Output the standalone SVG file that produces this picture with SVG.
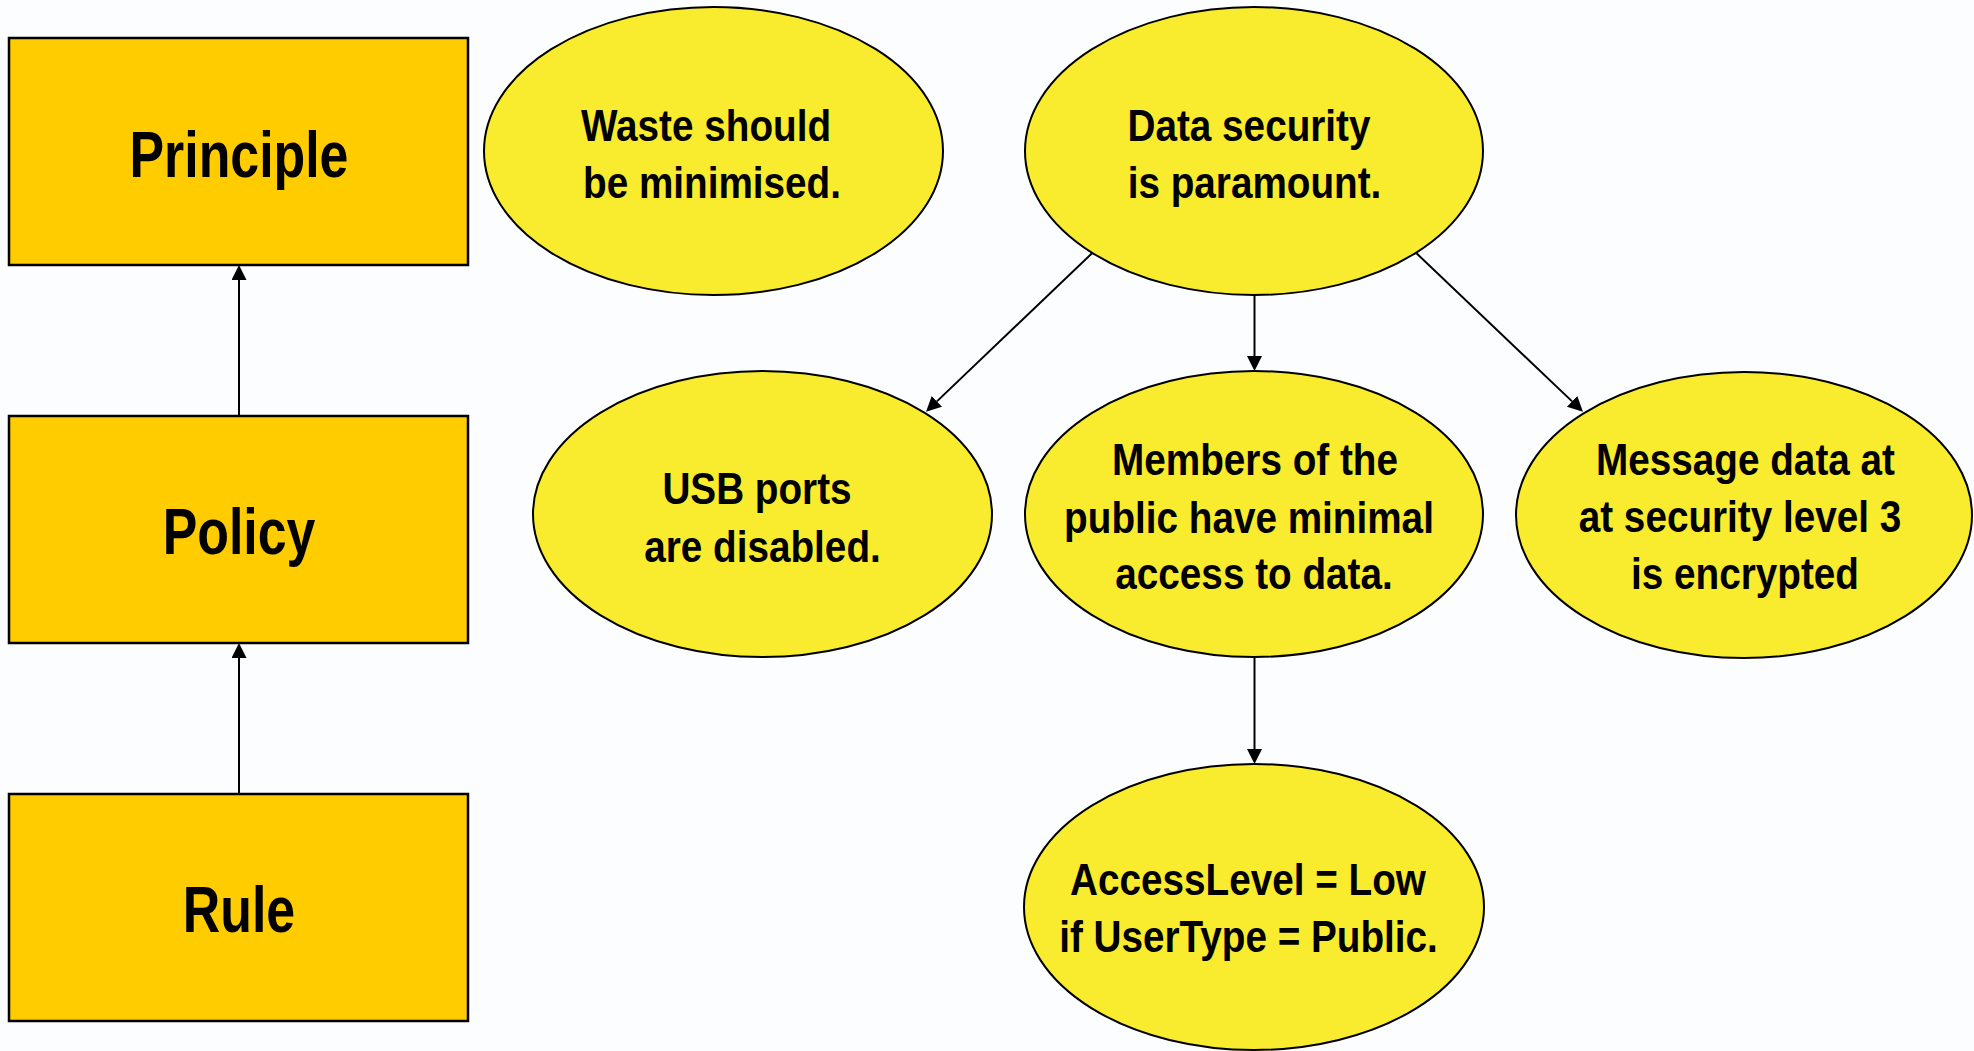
<svg xmlns="http://www.w3.org/2000/svg" width="1974" height="1051" viewBox="0 0 1974 1051">
  <defs>
    <!-- filled arrowhead; its base sits at the line end, tip 15px ahead -->
    <marker id="arrow" markerUnits="userSpaceOnUse" markerWidth="16" markerHeight="16" refX="0" refY="7.5" orient="auto">
      <path d="M0,0 L15,7.5 L0,15 Z" fill="#000"/>
    </marker>
    <style>
      .box { fill: #FFCC00; stroke: #000; stroke-width: 2.5; }
      .oval { fill: #F9EB2D; stroke: #000; stroke-width: 2; }
      .edge { stroke: #000; stroke-width: 2; fill: none; marker-end: url(#arrow); }
      .big { font-family: "Liberation Sans", Arial, sans-serif; font-weight: bold; font-size: 64px; text-anchor: middle; fill: #000; }
      .lbl { font-family: "Liberation Sans", Arial, sans-serif; font-weight: bold; font-size: 45px; text-anchor: middle; fill: #000; }
    </style>
  </defs>

  <rect width="1974" height="1051" fill="#FCFDFE"/>

  <!-- hierarchy column -->
  <g id="principle">
    <rect class="box" x="9" y="38" width="459" height="227"/>
    <text class="big" transform="translate(239 177) scale(0.81 1)">Principle</text>
  </g>
  <g id="policy">
    <rect class="box" x="9" y="416" width="459" height="227"/>
    <text class="big" transform="translate(239 554) scale(0.81 1)">Policy</text>
  </g>
  <g id="rule">
    <rect class="box" x="9" y="794" width="459" height="227"/>
    <text class="big" transform="translate(239 932) scale(0.81 1)">Rule</text>
  </g>

  <!-- example statements -->
  <g id="waste">
    <ellipse class="oval" cx="713.5" cy="151" rx="229.5" ry="144"/>
    <text class="lbl" transform="translate(706 141) scale(0.86 1)">Waste should</text>
    <text class="lbl" transform="translate(712 198) scale(0.86 1)">be minimised.</text>
  </g>
  <g id="security">
    <ellipse class="oval" cx="1254" cy="151" rx="229" ry="144"/>
    <text class="lbl" transform="translate(1249 141) scale(0.86 1)">Data security</text>
    <text class="lbl" transform="translate(1254.5 198) scale(0.86 1)">is paramount.</text>
  </g>
  <g id="usb">
    <ellipse class="oval" cx="762.5" cy="514" rx="229.5" ry="143"/>
    <text class="lbl" transform="translate(757 504) scale(0.86 1)">USB ports</text>
    <text class="lbl" transform="translate(762.5 562) scale(0.86 1)">are disabled.</text>
  </g>
  <g id="members">
    <ellipse class="oval" cx="1254" cy="514" rx="229" ry="143"/>
    <text class="lbl" transform="translate(1255 475) scale(0.86 1)">Members of the</text>
    <text class="lbl" transform="translate(1249 533) scale(0.86 1)">public have minimal</text>
    <text class="lbl" transform="translate(1254 589) scale(0.86 1)">access to data.</text>
  </g>
  <g id="message">
    <ellipse class="oval" cx="1744" cy="515" rx="228" ry="143"/>
    <text class="lbl" transform="translate(1745.5 475) scale(0.86 1)">Message data at</text>
    <text class="lbl" transform="translate(1740 532) scale(0.86 1)">at security level 3</text>
    <text class="lbl" transform="translate(1745 589) scale(0.86 1)">is encrypted</text>
  </g>
  <g id="access">
    <ellipse class="oval" cx="1254" cy="907" rx="230" ry="143"/>
    <text class="lbl" transform="translate(1248 895) scale(0.86 1)">AccessLevel = Low</text>
    <text class="lbl" transform="translate(1248.5 952) scale(0.86 1)">if UserType = Public.</text>
  </g>

  <!-- connectors -->
  <g id="connectors">
    <line class="edge" x1="239" y1="416" x2="239" y2="280"/>
    <line class="edge" x1="239" y1="794" x2="239" y2="658"/>
    <line class="edge" x1="1092" y1="253.3" x2="936.9" y2="401.4"/>
    <line class="edge" x1="1254.5" y1="295" x2="1254.5" y2="356"/>
    <line class="edge" x1="1416.5" y1="253.3" x2="1572.1" y2="401.4"/>
    <line class="edge" x1="1254.5" y1="657" x2="1254.5" y2="749"/>
  </g>
</svg>
